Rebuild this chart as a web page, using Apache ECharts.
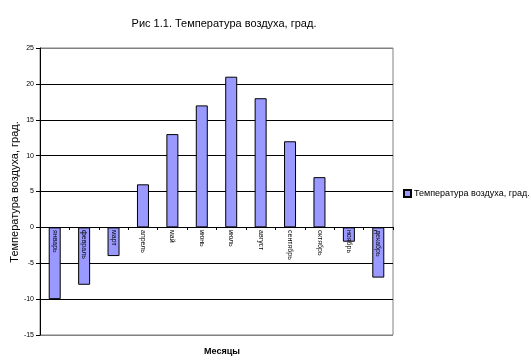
<!DOCTYPE html>
<html><head><meta charset="utf-8">
<script src="https://cdn.jsdelivr.net/npm/echarts@6/dist/echarts.min.js"></script>
<style>html,body{margin:0;padding:0;background:#fff}#c{width:531px;height:362px}</style>
</head><body><div id="c"></div>
<script>
const months = ['январь','февраль','март','апрель','май','июнь','июль','август','сентябрь','октябрь','ноябрь','декабрь'];
const temps = [-10, -8, -4, 6, 13, 17, 21, 18, 12, 7, -2, -7];
const seriesName = 'Температура воздуха, град.';
const titleText = 'Рис 1.1. Температура воздуха, град.';
const xName = 'Месяцы';
const yName = 'Температура воздуха, град.';

const chart = echarts.init(document.getElementById('c'), null, {renderer:'canvas'});
chart.setOption({
  animation:false,
  backgroundColor:'#fff',
  textStyle:{fontFamily:'Liberation Sans, Arial, sans-serif'},
  title:[
    {text:titleText,left:219,top:13,textAlign:'center',
     textStyle:{fontSize:11,fontWeight:'normal',color:'#000',fontFamily:'Liberation Sans, Arial, sans-serif'}},
    {text:xName,left:217,top:342,textAlign:'center',
     textStyle:{fontSize:9,fontWeight:'bold',color:'#000',fontFamily:'Liberation Sans, Arial, sans-serif'}}
  ],
  graphic:[{type:'text',x:15,y:192,rotation:Math.PI/2,
    style:{text:yName,align:'center',verticalAlign:'middle',fontSize:11,fill:'#000',
      fontFamily:'Liberation Sans, Arial, sans-serif'}}],
  legend:{left:398,top:184,itemWidth:7,itemHeight:7,itemGap:4,icon:'rect',
    textStyle:{fontSize:9,color:'#000',padding:[0,0,0,-2]}},
  grid:{left:40,right:138,top:48,bottom:27,show:true,borderColor:'#808080',borderWidth:1,
    containLabel:false,outerBoundsMode:'none'},
  xAxis:{type:'category',data:months,position:'bottom',offset:-108,z:10,
    axisLine:{onZero:false,lineStyle:{color:'#000',width:1}},
    axisTick:{show:true,alignWithLabel:false,length:3,lineStyle:{color:'#000'}},
    axisLabel:{rotate:-90,fontSize:7,color:'#000',margin:3,interval:0}},
  yAxis:{type:'value',min:-15,max:25,interval:5,
    axisLine:{show:true,lineStyle:{color:'#000'}},
    axisTick:{show:true,length:4,lineStyle:{color:'#000'}},
    axisLabel:{fontSize:7,color:'#000',margin:6},
    splitLine:{show:true,lineStyle:{color:['#808080','#000','#000','#000','#000','#000','#000','#000','#808080'],width:1}}},
  series:[{name:seriesName,type:'bar',data:temps,barWidth:12,
    itemStyle:{color:'#9999FF',borderColor:'#000',borderWidth:1}}]
});
</script></body></html>
